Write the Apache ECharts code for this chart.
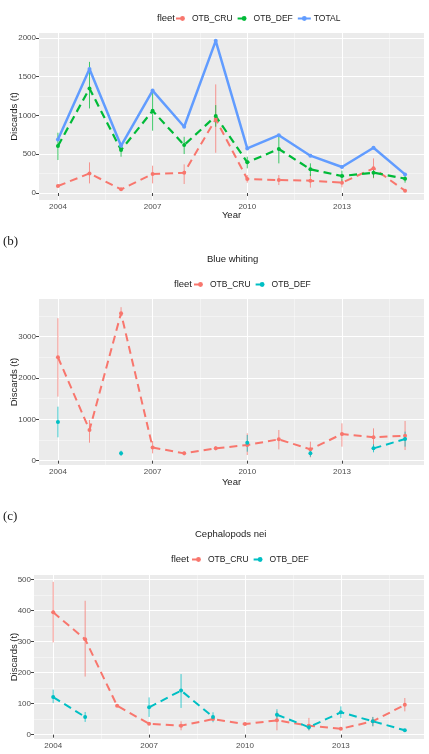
<!DOCTYPE html>
<html>
<head>
<meta charset="UTF-8">
<title>Discards by fleet</title>
<script type="text/javascript" src="https://cdn.jsdelivr.net/npm/echarts@6/dist/echarts.min.js"></script>
<style>
body { margin:0; background:#fff; }
</style>
</head>
<body>

<div id="box" style="width:429px;height:754px;"></div>

<script type="text/javascript">

// years on the x axis
var years = [2004, 2005, 2006, 2007, 2008, 2009, 2010, 2011, 2012, 2013, 2014, 2015];
var xTicks = [2004, 2007, 2010, 2013];
var xMinor = [2005.5, 2008.5, 2011.5, 2014.5];

// (a) all fleets
var aCru   = [90, 253, 47, 245, 262, 953, 180, 167, 159, 133, 318, 30];
var aCruLo = [null, 124, null, 124, 116, 519, 133, 103, 69, 73, 189, null];
var aCruHi = [null, 395, null, 352, 369, 1400, 232, 232, 245, 176, 446, null];
var aDef   = [605, 1348, 554, 1060, 618, 991, 395, 567, 305, 219, 262, 185];
var aDefLo = [425, 1090, 468, 803, 502, 854, 318, 382, 219, 146, 197, 133];
var aDefHi = [777, 1690, 640, 1326, 725, 1133, 468, 747, 382, 288, 318, 232];
var aTotal = [691, 1597, 609, 1320, 854, 1961, 575, 745, 481, 335, 584, 240];
var aYTicks = [0, 500, 1000, 1500, 2000];
var aYMinor = [250, 750, 1250, 1750];

// (b) Blue whiting
var bCru   = [2500, 742, 3565, 320, 177, 298, 379, 516, 274, 645, 565, 605];
var bCruLo = [1548, 435, 3484, 177, 130, 250, 137, 274, 81, 339, 258, 258];
var bCruHi = [3444, 984, 3710, 476, 225, 350, 661, 742, 460, 903, 782, 960];
var bDef   = [935, null, 177, null, null, null, 435, null, 177, null, 298, 524];
var bDefLo = [565, null, 113, null, null, null, 218, null, 97, null, 202, 339];
var bDefHi = [1306, null, 242, null, null, null, 621, null, 258, null, 395, 702];
var bYTicks = [0, 1000, 2000, 3000];
var bYMinor = [500, 1500, 2500, 3500];

// (c) Cephalopods nei
var cCru   = [394, 307, 93, 35, 29, 50, 34, 46, 29, 19, 43, 96];
var cCruLo = [297, 187, null, null, 14, null, null, 14, 14, null, 27, 75];
var cCruHi = [492, 431, null, null, 43, null, null, 75, 54, null, 57, 118];
var cDef   = [121, 57, null, 88, 142, 57, null, 64, 24, 72, 43, 14];
var cDefLo = [102, 41, null, 57, 86, 40, null, 46, 14, 54, 27, null];
var cDefHi = [145, 73, null, 120, 195, 72, null, 82, 34, 91, 57, null];
var cYTicks = [0, 100, 200, 300, 400, 500];
var cYMinor = [50, 150, 250, 350, 450];

var RED = '#F8766D', GREEN = '#00BA38', BLUE = '#619CFF', TEAL = '#00BFC4';
var FONT = 'Liberation Sans';

function pairs(vals) {
  return years.map(function (y, i) { return [y, vals[i] == null ? null : vals[i]]; });
}
function bars(lo, hi) {
  var out = [];
  years.forEach(function (y, i) {
    if (lo[i] != null && hi[i] != null) out.push([y, lo[i], hi[i]]);
  });
  return out;
}
function plain(v) { return String(v); }

var grids = [
  {left: 39, top: 33, width: 385, height: 167, ymin: -90, ymax: 2062, yt: aYTicks, ym: aYMinor, gap: 20, xgap: 10},
  {left: 39, top: 299, width: 385, height: 166, ymin: -104, ymax: 3908, yt: bYTicks, ym: bYMinor, gap: 20, xgap: 12},
  {left: 34, top: 575, width: 390, height: 164, ymin: -14, ymax: 514, yt: cYTicks, ym: cYMinor, gap: 15, xgap: 13}
];

var xAxes = [], yAxes = [];
grids.forEach(function (g, k) {
  xAxes.push({
    type: 'value', gridIndex: k, min: 2003.4, max: 2015.6,
    name: 'Year', nameLocation: 'middle', nameGap: g.xgap, nameMoveOverlap: false,
    nameTextStyle: {fontFamily: FONT, fontSize: 9.5, color: '#1a1a1a'},
    axisLine: {show: false},
    axisTick: {show: true, length: 3, lineStyle: {color: '#444'}, customValues: xTicks},
    axisLabel: {customValues: xTicks, formatter: plain, margin: 3, fontFamily: FONT, fontSize: 8, color: '#4D4D4D'},
    splitLine: {show: true, lineStyle: {color: '#fff', width: 1}}
  });
  xAxes.push({
    type: 'value', gridIndex: k, min: 2003.4, max: 2015.6,
    axisLine: {show: false},
    axisTick: {show: false, customValues: xMinor},
    axisLabel: {show: false, customValues: xMinor},
    splitLine: {show: true, lineStyle: {color: '#fff', width: 0.5, opacity: 0.8}}
  });
  yAxes.push({
    type: 'value', gridIndex: k, min: g.ymin, max: g.ymax,
    name: 'Discards (t)', nameLocation: 'middle', nameGap: g.gap, nameMoveOverlap: false,
    nameTextStyle: {fontFamily: FONT, fontSize: 9.5, color: '#1a1a1a'},
    axisLine: {show: false},
    axisTick: {show: true, length: 3, lineStyle: {color: '#444'}, customValues: g.yt},
    axisLabel: {customValues: g.yt, formatter: plain, margin: 3, fontFamily: FONT, fontSize: 8, color: '#4D4D4D'},
    splitLine: {show: true, lineStyle: {color: '#fff', width: 1}}
  });
  yAxes.push({
    type: 'value', gridIndex: k, min: g.ymin, max: g.ymax,
    axisLine: {show: false},
    axisTick: {show: false, customValues: g.ym},
    axisLabel: {show: false, customValues: g.ym},
    splitLine: {show: true, lineStyle: {color: '#fff', width: 0.5, opacity: 0.8}}
  });
});

function lineSeries(name, k, vals, color, dashed, width) {
  return {
    name: name, type: 'line', xAxisIndex: 2 * k, yAxisIndex: 2 * k,
    data: pairs(vals), connectNulls: false,
    symbol: 'circle', symbolSize: 4, showSymbol: true,
    itemStyle: {color: color},
    lineStyle: {color: color, width: width, type: dashed ? [8, 5] : 'solid'},
    emphasis: {disabled: true}, z: 3
  };
}
function errSeries(name, k, lo, hi, color) {
  return {
    name: name, type: 'custom', xAxisIndex: 2 * k, yAxisIndex: 2 * k,
    data: bars(lo, hi), encode: {x: 0, y: [1, 2]}, z: 2,
    renderItem: function (params, api) {
      var p1 = api.coord([api.value(0), api.value(1)]);
      var p2 = api.coord([api.value(0), api.value(2)]);
      return {type: 'line', shape: {x1: p1[0], y1: p1[1], x2: p2[0], y2: p2[1]},
              style: {stroke: color, lineWidth: 1, opacity: 0.75}};
    }
  };
}

var series = [
  errSeries('a_eCRU', 0, aCruLo, aCruHi, RED),
  errSeries('a_eDEF', 0, aDefLo, aDefHi, GREEN),
  lineSeries('a_OTB_CRU', 0, aCru, RED, true, 2),
  lineSeries('a_OTB_DEF', 0, aDef, GREEN, true, 2.2),
  lineSeries('a_TOTAL', 0, aTotal, BLUE, false, 2.5),
  errSeries('b_eCRU', 1, bCruLo, bCruHi, RED),
  errSeries('b_eDEF', 1, bDefLo, bDefHi, TEAL),
  lineSeries('b_OTB_CRU', 1, bCru, RED, true, 2),
  lineSeries('b_OTB_DEF', 1, bDef, TEAL, true, 2),
  errSeries('c_eCRU', 2, cCruLo, cCruHi, RED),
  errSeries('c_eDEF', 2, cDefLo, cDefHi, TEAL),
  lineSeries('c_OTB_CRU', 2, cCru, RED, true, 2),
  lineSeries('c_OTB_DEF', 2, cDef, TEAL, true, 2)
];

function legend(names, left, top) {
  return {
    data: names, left: left, top: top, orient: 'horizontal',
    itemWidth: 13, itemHeight: 6, itemGap: 4, padding: 0,
    selectedMode: false,
    formatter: function (n) { return n.slice(2); },
    textStyle: {fontFamily: FONT, fontSize: 8.5, color: '#1a1a1a', padding: [0, 0, 0, -2]}
  };
}

function txt(str, x, y, size, family) {
  return {type: 'text', left: x, top: y,
          style: {text: str, fontFamily: family, fontSize: size, fill: '#1a1a1a'}};
}

var mychart = echarts.init(document.getElementById('box'), null, {renderer: 'canvas'});

var option = {
  backgroundColor: '#fff',
  animation: false,
  grid: grids.map(function (g) {
    return {left: g.left, top: g.top, width: g.width, height: g.height,
            show: true, backgroundColor: '#EBEBEB', borderWidth: 0, containLabel: false,
            outerBoundsMode: 'none'};
  }),
  xAxis: xAxes,
  yAxis: yAxes,
  legend: [
    legend(['a_OTB_CRU', 'a_OTB_DEF', 'a_TOTAL'], 175, 14),
    legend(['b_OTB_CRU', 'b_OTB_DEF'], 193, 280),
    legend(['c_OTB_CRU', 'c_OTB_DEF'], 191, 555)
  ],
  graphic: [
    txt('fleet', 157, 13, 9.5, FONT),
    txt('(b)', 3, 235, 13, 'Liberation Serif'),
    txt('Blue whiting', 207, 254, 9.5, FONT),
    txt('fleet', 174, 279, 9.5, FONT),
    txt('(c)', 3, 510, 13, 'Liberation Serif'),
    txt('Cephalopods nei', 195, 529, 9.5, FONT),
    txt('fleet', 171, 554, 9.5, FONT)
  ],
  series: series
};

mychart.setOption(option);
</script>
</body>
</html>
